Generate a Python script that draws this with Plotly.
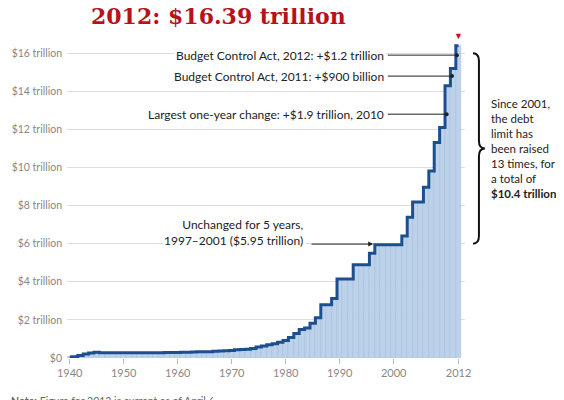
import plotly.graph_objects as go

years = list(range(1940, 2013))
limit = [0.049, 0.065, 0.125, 0.21, 0.26, 0.30, 0.275, 0.275, 0.275, 0.275,
         0.275, 0.275, 0.275, 0.275, 0.281, 0.281, 0.278, 0.275, 0.288, 0.295,
         0.293, 0.298, 0.308, 0.309, 0.324, 0.328, 0.330, 0.358, 0.365, 0.377,
         0.395, 0.430, 0.450, 0.465, 0.495, 0.577, 0.636, 0.700, 0.752, 0.830,
         0.925, 1.079, 1.290, 1.490, 1.573, 1.824, 2.111, 2.800, 2.800, 3.123,
         4.145, 4.145, 4.145, 4.900, 4.900, 4.900, 5.500, 5.950, 5.950, 5.950,
         5.950, 5.950, 6.400, 7.384, 8.184, 8.184, 8.965, 9.815, 11.315, 12.104,
         14.294, 15.194, 16.394]
y_ticks = [0, 2, 4, 6, 8, 10, 12, 14, 16]
y_labels = ["$0"] + [f"${v} trillion" for v in y_ticks[1:]]
x_ticks = [1940, 1950, 1960, 1970, 1980, 1990, 2000, 2012]

fig = go.Figure()
fig.add_trace(go.Bar(x=years, y=limit, width=1, marker_color="#bcd2ea",
                     marker_line=dict(color="#a7bfdc", width=0.6)))
fig.add_trace(go.Scatter(x=years, y=limit, mode="lines", line_shape="hvh",
                         line=dict(color="#1c4f8f", width=3)))

font = dict(family="Lato, Open Sans, sans-serif", size=12, color="#222")
fig.update_layout(
    width=564, height=400, margin=dict(l=59, r=107, t=30, b=50),
    plot_bgcolor="white", paper_bgcolor="white", showlegend=False,
    bargap=0, font=font,
    xaxis=dict(range=[1939.5, 2013.2], tickvals=x_ticks, showgrid=False,
               ticks="outside", ticklen=5, tickcolor="#bbb", automargin=False,
               tickfont=dict(size=11, color="#888"), zeroline=False),
    yaxis=dict(range=[0, 16.8], tickvals=y_ticks, ticktext=y_labels,
               gridcolor="#ddd", tickfont=dict(size=10.5, color="#888"),
               zeroline=False, automargin=False, ticklabelstandoff=4),
)

fig.add_annotation(text="<b>2012: $16.39 trillion</b>", xref="paper", yref="paper",
                   x=0.705, y=1.115, showarrow=False,
                   font=dict(family="DejaVu Serif, serif", size=22, color="#b5121b"))
fig.add_annotation(text="▼", x=2012, y=16.55, yanchor="bottom", showarrow=False,
                   font=dict(size=9, color="#c8102e"))

notes = [
    ("Budget Control Act, 2012: +$1.2 trillion", 15.9, 2011.7),
    ("Budget Control Act, 2011: +$900 billion", 14.8, 2010.8),
    ("Largest one-year change: +$1.9 trillion, 2010", 12.8, 2009.8),
]
for txt, yv, xv in notes:
    fig.add_annotation(text=txt, x=1998.6, y=yv, xanchor="right", showarrow=False,
                       font=dict(size=12, color="#222"), bgcolor="white")
    fig.add_shape(type="line", x0=1998.9, x1=xv, y0=yv, y1=yv,
                  line=dict(color="#222", width=1))
    fig.add_trace(go.Scatter(x=[xv], y=[yv], mode="markers",
                             marker=dict(color="#222", size=4)))

fig.add_annotation(text="Unchanged for 5 years,<br>1997–2001 ($5.95 trillion)",
                   x=1983.8, y=6.6, xanchor="right", align="right", showarrow=False,
                   font=dict(size=12, color="#222"), bgcolor="white")
fig.add_annotation(x=1996.2, y=5.98, ax=1984.5, ay=5.98, axref="x", ayref="y",
                   text="", showarrow=True, arrowhead=2, arrowsize=1,
                   arrowwidth=1, arrowcolor="#222")

# brace
fig.add_shape(type="path", xref="paper", yref="y",
              path="M 1.02 16 Q 1.035 16 1.035 15.6 L 1.035 11.4 Q 1.035 11 1.05 11 "
                   "Q 1.035 11 1.035 10.6 L 1.035 6.4 Q 1.035 6 1.02 6",
              line=dict(color="#111", width=2))
fig.add_annotation(text="Since 2001,<br>the debt<br>limit has<br>been raised<br>"
                        "13 times, for<br>a total of<br><b>$10.4 trillion</b>",
                   xref="paper", x=1.06, y=11, xanchor="left", align="left",
                   showarrow=False, font=dict(size=11.5, color="#222"))

fig.add_annotation(text="<b>Note:</b> Figure for 2012 is current as of April 6.",
                   xref="paper", yref="paper", x=-0.145, y=-0.11, xanchor="left",
                   yanchor="top", showarrow=False, font=dict(size=10.5, color="#666"))

fig.write_html("out.html")
